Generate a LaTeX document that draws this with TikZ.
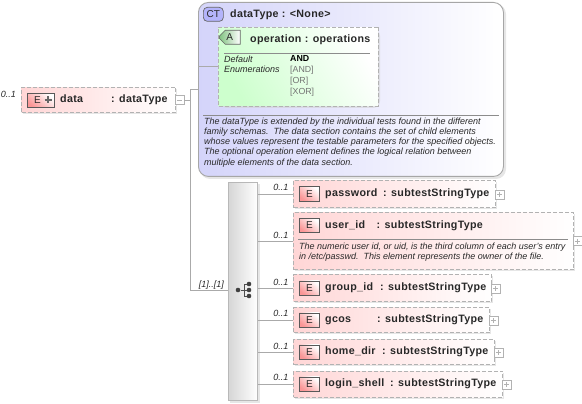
\documentclass[tikz,border=0pt]{standalone}
\usepackage{fontspec}
\setmainfont{Liberation Sans}
\newfontface\titlefont{Liberation Sans Bold}[LetterSpace=3]
\usetikzlibrary{shapes.misc,calc}
\definecolor{edge}{RGB}{178,178,178}
\definecolor{wire}{RGB}{170,170,170}
\definecolor{ink}{RGB}{40,40,40}
\definecolor{pinkbox}{RGB}{255,214,214}
\definecolor{ctblue}{RGB}{212,212,250}
\definecolor{attgreen}{RGB}{205,255,205}
\definecolor{badgered}{RGB}{250,150,150}
\definecolor{badgegreen}{RGB}{130,195,130}
\tikzset{
  wirepath/.style={draw=wire,line width=.8pt},
  shadowbox/.style={fill=black!18,draw=none,opacity=.55},
  elembox/.style={anchor=north west,inner sep=0pt,draw=edge,line width=1pt,dash pattern=on 4pt off 2pt,left color=pinkbox,right color=white},
  badgeface/.style={draw=black!65,line width=.7pt,top color=white,bottom color=badgered,shading angle=-40},
  elembadge/.style={anchor=north west,inner sep=0pt,minimum width=20pt,minimum height=14pt,badgeface,font=\fontsize{10}{10}\selectfont,text=ink},
  titletext/.style={anchor=base west,inner sep=0pt,font=\titlefont\fontsize{10.7}{12}\selectfont,text=ink},
  occurs/.style={anchor=base east,inner sep=0pt,font=\itshape\fontsize{9}{10}\selectfont,text=ink},
  doctext/.style={anchor=north west,inner sep=0pt,align=left,font=\itshape\fontsize{9}{10.2}\selectfont,text=ink},
  expander/.style={anchor=west,inner sep=0pt,minimum width=8.5pt,minimum height=9pt,draw=edge,line width=.7pt,fill=white},
  signmark/.style={draw=edge,line width=.7pt},
  dotmark/.style={circle,inner sep=0pt,minimum size=4.6pt,fill=black!75},
  iconline/.style={draw=black!70,line width=1pt},
}
\newcommand{\elemrow}[7]{% id, top, right, height, label, colon x, occurs offset
  \fill[shadowbox] (295,#2+2) rectangle (#3+2,#2+#4+2);
  \node[elembox,minimum width=#3pt-293pt,minimum height=#4pt] (#1) at (293,#2) {};
  \node[elembadge] (#1b) at (299,#2+#4/2-7) {E};
  \node[titletext] (#1t) at (325,#2+#4/2+3) {#5};
  \node[titletext] (#1c) at (#6,#2+#4/2+3) {: subtestStringType};
  \node[expander] (#1p) at (#3,#2+#4/2+1) {};
  \draw[signmark] ($(#1p.center)+(-2.5,0)$) -- ($(#1p.center)+(2.5,0)$) ($(#1p.center)+(0,-2.5)$) -- ($(#1p.center)+(0,2.5)$);
  \node[occurs] (#1o) at (288.5,#2+#7) {0..1};
}
\begin{document}
\begin{tikzpicture}[x=1pt,y=-1pt]
\useasboundingbox (0,0) rectangle (582,404);
\coordinate (trunk) at (190,100);
\coordinate (ctjoin) at (190,89);
\coordinate (seqjoin) at (190,290);
% CT box
\fill[shadowbox,rounded corners=10pt] (200,4) rectangle (506,179);
\node[anchor=north west,inner sep=0pt,minimum width=305pt,minimum height=174pt,rounded corners=10pt,draw=black!35,line width=.9pt,left color=ctblue,right color=white] (ct) at (198,2) {};
\node[anchor=north west,inner sep=0pt,minimum width=20pt,minimum height=14pt,rounded corners=4pt,draw=black!60,line width=.7pt,fill=ctblue!85!blue,font=\fontsize{10}{10}\selectfont,text=ink] (ctb) at (203,7) {CT};
\node[titletext] (ctt) at (230,17.3) {dataType : <None>};
\draw[draw=black!45,line width=.7pt] (203,115) -- (499,115);
\node[doctext] (ctdoc) at (204,117.5) {The dataType is extended by the individual tests found in the different\\family schemas.\ \ The data section contains the set of child elements\\whose values represent the testable parameters for the specified objects.\\The optional operation element defines the logical relation between\\multiple elements of the data section.};
% attribute
\fill[shadowbox,rounded corners=7pt] (220,29) rectangle (380,108);
\node[anchor=north west,inner sep=0pt,minimum width=160pt,minimum height=79pt,draw=edge,line width=1pt,dash pattern=on 4pt off 2pt,top color=white,bottom color=attgreen,shading angle=-60,chamfered rectangle,chamfered rectangle corners={north west,south west},chamfered rectangle sep=8pt] (att) at (218,27) {};
\node[anchor=north west,inner sep=0pt,minimum width=21pt,minimum height=14pt,chamfered rectangle,chamfered rectangle corners={north west,south west},chamfered rectangle sep=3pt,draw=black!60,line width=.7pt,left color=badgegreen,right color=white,font=\fontsize{10}{10}\selectfont,text=ink] (attb) at (222,33) {A};
\node[titletext] (attt) at (250,42.3) {operation : operations};
\draw[draw=black!45,line width=.7pt] (224,53) -- (370,53);
\node[doctext] (attk) at (224,56) {Default\\Enumerations};
\node[anchor=north west,inner sep=0pt,align=left,font=\fontsize{8.8}{10.8}\selectfont,text=black!55] (attv) at (290,55.5) {\textbf{\textcolor{black}{AND}}\\{}[AND]\\{}[OR]\\{}[XOR]};
\draw[wirepath] (ct.west |- att.west) -- (att.west);
% top element
\fill[shadowbox] (23,89) rectangle (177,114);
\node[elembox,minimum width=154pt,minimum height=25pt] (data) at (21,87) {};
\node[anchor=north west,inner sep=0pt,minimum width=27pt,minimum height=14pt,badgeface] (datab) at (27,93) {};
\node[anchor=base,inner sep=0pt,font=\fontsize{10}{10}\selectfont,text=ink] (datae) at (37.5,104) {E};
\coordinate (datax) at (48,100);
\draw[draw=black!60,line width=2pt] ($(datax)+(-3.5,0)$) -- ($(datax)+(3.5,0)$) ($(datax)+(0,-3.5)$) -- ($(datax)+(0,3.5)$);
\node[titletext] (datat) at (60,102.5) {data};
\node[titletext] (datac) at (111,102.5) {: dataType};
\node[occurs] (datao) at (16,97.5) {0..1};
\node[expander] (dataminus) at (175,100) {};
\draw[signmark] ($(dataminus.center)+(-2.5,0)$) -- ($(dataminus.center)+(2.5,0)$);
% sequence
\fill[shadowbox] (230,184) rectangle (260,403);
\node[anchor=north west,inner sep=0pt,minimum width=29pt,minimum height=218pt,draw=black!28,line width=1.4pt,left color=black!16,right color=white] (seq) at (228,182) {};
\coordinate (seqc) at (244,290);
\node[dotmark] (d0) at (238,290) {};
\node[dotmark] (d1) at (249,284) {};
\node[dotmark] (d2) at (249,290) {};
\node[dotmark] (d3) at (249,296) {};
\draw[iconline] (d0) -- (d2) (seqc |- d1) -- (d1) (seqc |- d3) -- (d3) (seqc |- d1) -- (seqc |- d3);
% rows
\elemrow{pw}{180}{495}{27}{password}{383}{10.5}
\fill[shadowbox] (295,214) rectangle (575,271);
\node[elembox,minimum width=280pt,minimum height=57pt] (uid) at (293,212) {};
\node[elembadge] (uidb) at (299,218) {E};
\node[titletext] (uidt) at (325,228.3) {user\_id};
\node[titletext] (uidc) at (376.5,228.3) {: subtestStringType};
\draw[draw=black!45,line width=.7pt] (298,239) -- (568,239);
\node[doctext] (uiddoc) at (299,242.5) {The numeric user id, or uid, is the third column of each user's entry\\in /etc/passwd.\ \ This element represents the owner of the file.};
\node[expander] (uidp) at (573,241) {};
\draw[signmark] ($(uidp.center)+(-2.5,0)$) -- ($(uidp.center)+(2.5,0)$) ($(uidp.center)+(0,-2.5)$) -- ($(uidp.center)+(0,2.5)$);
\node[occurs] (uido) at (288.5,238.5) {0..1};
\elemrow{gid}{274}{491}{27}{group\_id}{380}{11.5}
\elemrow{gc}{307}{489}{25}{gcos}{377}{9.5}
\elemrow{hd}{339}{494}{25}{home\_dir}{382}{10.5}
\elemrow{ls}{370.5}{502}{26}{login\_shell}{390}{10}
\node[occurs] (seqo) at (224,287.5) {[1]..[1]};
% wires
\draw[wirepath] (dataminus.east) -- (trunk);
\draw[wirepath] (ct.west |- ctjoin) -- (ctjoin) -- (seqjoin) -- (seq.west |- seqjoin);
\foreach \r in {pw,uid,gid,gc,hd,ls}{\draw[wirepath] (seq.east |- \r.west) -- (\r.west);}
\end{tikzpicture}
\end{document}
